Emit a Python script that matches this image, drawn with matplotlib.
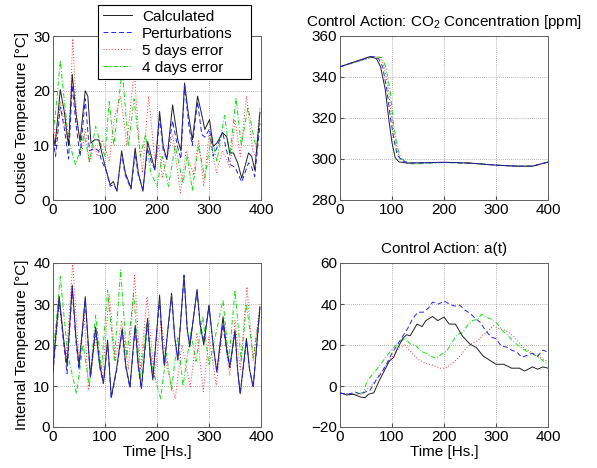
import matplotlib
matplotlib.use("Agg")
import matplotlib.pyplot as plt

plt.rcParams['font.family'] = ['Liberation Sans', 'DejaVu Sans']
plt.rcParams['mathtext.fontset'] = 'custom'
plt.rcParams['mathtext.rm'] = 'Liberation Sans'

# ---------------- Outside temperature ----------------
out_calc_t = [0, 4, 8, 14, 22, 27, 30, 37, 44, 52, 62, 67, 73, 80, 88, 94, 102, 110, 116, 123,
              132, 139, 150, 158, 164, 173, 182, 189, 196, 205, 212, 219, 230, 240, 246, 253, 260, 268, 278, 284,
              292, 301, 308, 315, 326, 334, 340, 347, 355, 363, 376, 382, 388, 398]
out_calc_v = [12, 10, 14, 20.2, 16, 12, 10, 23, 16, 10.7, 20, 19, 10.4, 11, 11, 8.6, 5.5, 2.8, 3.4, 1.6,
              9, 5, 2.2, 9.5, 5, 1.6, 10.7, 8, 5.5, 16.2, 9.8, 7.4, 17.4, 11, 9, 21.4, 16, 11, 19, 16.5,
              12.9, 14.7, 9.8, 10.4, 12.3, 11.6, 8.6, 8.6, 6.8, 4, 8.6, 8, 5.5, 16]

out_pert_t = [0, 5, 14, 22, 30, 37, 44, 52, 62, 70, 80, 88, 94, 102, 110, 116, 123, 132, 139, 150,
              158, 164, 173, 182, 189, 196, 205, 212, 219, 230, 240, 246, 253, 262, 268, 278, 286, 292, 301, 308,
              315, 326, 334, 340, 350, 363, 376, 382, 388, 398]
out_pert_v = [11, 8, 17, 13, 7.5, 21, 14, 8, 18.5, 9, 9.5, 9, 7, 5.5, 2.5, 2.8, 1.8, 8.5, 4.5, 2,
              8.5, 4.5, 2, 9.5, 7, 5.5, 15, 9, 7.5, 14.5, 9.5, 7.5, 21, 13, 10, 18, 12, 11.5, 13, 8,
              9.5, 12.5, 9, 6.5, 6, 3.3, 6.8, 6, 4.3, 14]

out_e5_t = [0, 6, 14, 22, 30, 38, 46, 56, 62, 70, 78, 86, 95, 102, 108, 118, 130, 142, 156, 166,
            172, 184, 196, 204, 210, 220, 230, 245, 256, 270, 280, 290, 300, 314, 326, 340, 350, 360, 372, 384,
            390, 398]
out_e5_v = [14, 11, 18, 14, 10, 29.5, 14, 9, 13, 6.8, 10, 8, 11, 9, 7, 15, 19, 10, 24, 10,
            5, 19, 7, 10, 4, 8, 12, 1.3, 9, 4.5, 11, 2.5, 12, 5, 9, 6, 14.7, 8, 19, 9,
            8, 17]

out_e4_t = [0, 6, 14, 22, 30, 43, 52, 60, 70, 82, 92, 100, 108, 117, 133, 145, 156, 168, 178, 188,
            200, 210, 222, 235, 250, 258, 268, 280, 292, 305, 315, 330, 340, 352, 362, 375, 385, 392, 398]
out_e4_v = [12, 17, 25.5, 18, 11, 6.5, 9, 12, 7, 13.5, 10, 8, 18, 10, 24, 10, 18.5, 8, 12, 5,
            2.5, 8, 2.5, 10, 3, 8, 1.8, 10, 4, 12, 7, 15.5, 8, 18.7, 10, 17, 12, 9, 14]

# ---------------- Internal temperature ----------------
in_calc_t = [0, 5, 12, 20, 27, 37, 44, 50, 56, 62, 67, 72, 82, 90, 97, 105, 112, 122, 133, 140,
             148, 158, 164, 170, 182, 187, 192, 205, 210, 214, 228, 234, 240, 252, 258, 263, 277, 283, 290, 300,
             308, 315, 327, 334, 340, 350, 355, 360, 372, 378, 385, 398]
in_calc_v = [14, 22, 31.8, 22, 15, 34.6, 22, 15, 23, 31.8, 22, 12.2, 24.4, 15, 10.6, 21.2, 7.3, 14, 24, 15,
             9.8, 24.8, 15, 9.4, 26.5, 17, 11.5, 32.2, 21, 15, 32.6, 22, 16.3, 37, 24, 19.5, 33.6, 25, 20, 29.7,
             20, 13.4, 26.9, 19, 14.7, 23.6, 14, 8.1, 21.6, 14, 9.8, 29.3]
in_pert_v = [13, 21, 31, 21, 13, 34, 21, 14, 22, 31, 21, 12, 24, 14.5, 10.6, 20.5, 7, 13.5, 23.5, 14.5,
             9.5, 24.5, 14.5, 9.2, 26, 17, 12, 31, 21, 15.5, 32, 22, 16.5, 37, 24, 20, 33, 25, 21, 29.5,
             20, 13.5, 25, 18.5, 14.5, 23, 14, 8, 21, 14, 9.5, 29]

in_e5_t = [0, 12, 25, 38, 50, 60, 68, 82, 95, 108, 120, 132, 145, 157, 168, 181, 195, 208, 220, 235,
           248, 264, 277, 289, 300, 314, 327, 340, 350, 360, 373, 385, 398]
in_e5_v = [14, 30, 16, 40, 16, 28, 9, 22, 12, 32.5, 16, 26, 14, 37, 14, 31.8, 12, 26, 14, 6.9,
           20, 9.8, 23, 8.6, 22, 10.2, 25, 12.6, 26, 14, 34.2, 16, 30]

in_e4_t = [0, 14, 28, 45, 58, 70, 82, 93, 105, 118, 130, 142, 155, 168, 180, 192, 207, 218, 228, 240,
           250, 265, 275, 288, 300, 312, 327, 338, 350, 362, 372, 385, 398]
in_e4_v = [17, 36.7, 18, 8.1, 20, 9.8, 27.3, 14, 33.4, 16.3, 38.3, 17, 32.6, 12.2, 25.3, 14, 6.9, 18, 9, 22,
           10, 23, 16, 27, 15, 22, 31, 16, 33.4, 16, 30, 17, 28]

# ---------------- CO2 concentration ----------------
co2_calc_t = [0, 58, 70, 78, 87, 94, 100, 106, 113, 130, 200, 250, 300, 340, 370, 400]
co2_calc_v = [345, 350, 349, 345, 334, 319, 308, 300.7, 298.6, 298, 298.4, 298, 297, 296.5, 296.5, 298.5]
co2_pert_t = [0, 62, 74, 82, 90, 97, 104, 110, 118, 130, 200, 250, 300, 340, 370, 400]
co2_pert_v = [345, 350, 349, 345, 334, 320, 309, 302, 299.5, 298, 298.3, 298, 297, 296.5, 296.5, 298.5]
co2_e5_t = [0, 64, 77, 85, 93, 100, 107, 113, 121, 135, 200, 250, 300, 340, 370, 400]
co2_e5_v = [345, 350, 349.5, 345, 334, 319, 308, 301.5, 299, 298, 298.5, 298, 297, 296.5, 296.5, 298.5]
co2_e4_t = [0, 66, 80, 88, 96, 103, 110, 117, 125, 140, 200, 250, 300, 340, 370, 400]
co2_e4_v = [345, 350, 349.5, 345, 334, 317, 306, 300.5, 299, 297.5, 298.3, 298, 297, 296.5, 296.5, 298.5]

# ---------------- Control action a(t) ----------------
a_calc_t = [0, 13, 25, 40, 48, 55, 65, 75, 85, 95, 103, 110, 120, 128, 135, 148, 158, 165, 178, 188,
            200, 210, 222, 235, 250, 262, 275, 290, 300, 315, 330, 345, 355, 370, 380, 390, 400]
a_calc_v = [-3.3, -4.4, -4, -5.4, -5.7, -4, -3.3, 2.4, 7.3, 12.2, 13.9, 18, 22.9, 25, 24.5, 30.2, 29, 31.9, 33.9, 31.9,
            33.6, 30.2, 30.2, 24.5, 20.4, 18.8, 14.7, 12.2, 10.6, 10.6, 8.7, 8.7, 7.3, 9.3, 8.2, 9.3, 8.7]
a_pert_t = [0, 15, 30, 40, 48, 58, 70, 80, 90, 100, 110, 120, 130, 140, 150, 160, 170, 178, 190, 200,
            210, 220, 230, 240, 250, 260, 270, 280, 290, 300, 310, 320, 330, 340, 350, 360, 370, 380, 390, 400]
a_pert_v = [-3.5, -4, -3, -4, -3, -2, 3, 6.5, 11, 16, 20, 24, 28, 33, 36, 36, 38, 40.9, 40, 41.5,
            40, 39, 39.5, 37, 35.5, 33, 31, 27, 24, 23, 19.5, 19, 17.5, 16.5, 14, 15, 16, 14.5, 17.5, 16.5]
a_e5_t = [0, 20, 40, 60, 80, 100, 115, 125, 135, 150, 165, 180, 195, 205, 215, 225, 235, 245, 255, 265,
          275, 285, 295, 305, 315, 325, 335, 345, 355, 365, 375, 385, 395, 400]
a_e5_v = [-3.5, -4, -4, 0, 7, 14, 19, 20, 17, 13, 11, 10, 8.5, 9, 11, 13, 16, 19, 21, 22,
          25, 27, 29.5, 28, 27.5, 26, 24, 21, 18, 17, 15, 14, 12.5, 12]
a_e4_t = [0, 20, 35, 45, 52, 71, 90, 106, 116, 125, 135, 145, 155, 165, 175, 185, 195, 205, 215, 225,
          235, 245, 255, 265, 272, 282, 292, 302, 312, 322, 332, 342, 352, 362, 372, 382, 392, 400]
a_e4_v = [-3.5, -4, -4, -3, 2.4, 8.2, 14.7, 19.6, 21.2, 23.5, 20.5, 20, 17, 16, 14.5, 13.5, 15.5, 17, 21, 25,
          26, 29.5, 32, 32.5, 35, 33.5, 32.5, 30.5, 27, 25, 22, 20, 18, 16.5, 15.5, 14, 12, 10.5]

labels = ['Calculated', 'Perturbations', '5 days error', '4 days error']
styles = [dict(color='#202020', ls='-', lw=0.7),
          dict(color='#2020ff', ls=(0, (5, 3)), lw=0.7),
          dict(color='#ff3030', ls=(0, (1, 2)), lw=0.7),
          dict(color='#10e010', ls=(0, (5, 2, 1, 2)), lw=0.7)]

FS = 11
W, H = 597, 468
fig = plt.figure(figsize=(W / 100, H / 100), dpi=100)


def make_ax(x0, x1, ytop, ybot):
    return fig.add_axes([x0 / W, 1 - ybot / H, (x1 - x0) / W, (ybot - ytop) / H])


def style_ax(ax, ylim, yticks):
    ax.set_xlim(0, 400)
    ax.set_xticks([0, 100, 200, 300, 400])
    ax.set_ylim(*ylim)
    ax.set_yticks(yticks)
    ax.grid(True, color='#707070', ls=(0, (1, 2)), lw=0.5)
    ax.tick_params(direction='in', length=3, labelsize=FS, color='#505050', pad=2)
    for s in ax.spines.values():
        s.set_color('#606060')
        s.set_linewidth(0.7)


ax1 = make_ax(53, 261, 36, 200)
ax2 = make_ax(340, 548, 36, 200)
ax3 = make_ax(53, 261, 263, 427)
ax4 = make_ax(340, 548, 263, 427)

series1 = [(out_calc_t, out_calc_v), (out_pert_t, out_pert_v), (out_e5_t, out_e5_v), (out_e4_t, out_e4_v)]
series2 = [(co2_calc_t, co2_calc_v), (co2_pert_t, co2_pert_v), (co2_e5_t, co2_e5_v), (co2_e4_t, co2_e4_v)]
series3 = [(in_calc_t, in_calc_v), (in_calc_t, in_pert_v), (in_e5_t, in_e5_v), (in_e4_t, in_e4_v)]
series4 = [(a_calc_t, a_calc_v), (a_pert_t, a_pert_v), (a_e5_t, a_e5_v), (a_e4_t, a_e4_v)]

order = [3, 2, 0, 1]
legend_handles = {}
for ax, ser in [(ax1, series1), (ax2, series2), (ax3, series3), (ax4, series4)]:
    for i in order:
        t, v = ser[i]
        ln, = ax.plot(t, v, label=labels[i], zorder=3, **styles[i])
        if ax is ax1:
            legend_handles[i] = ln

style_ax(ax1, (0, 30), [0, 10, 20, 30])
style_ax(ax2, (280, 360), [280, 300, 320, 340, 360])
style_ax(ax3, (0, 40), [0, 10, 20, 30, 40])
style_ax(ax4, (-20, 60), [-20, 0, 20, 40, 60])

ax1.set_ylabel('Outside Temperature [°C]', fontsize=FS, labelpad=3)
ax3.set_ylabel('Internal Temperature [°C]', fontsize=FS, labelpad=3)
ax3.set_xlabel('Time [Hs.]', fontsize=FS, labelpad=1)
ax4.set_xlabel('Time [Hs.]', fontsize=FS, labelpad=1)
ax2.set_title('Control Action: CO$_\\mathregular{2}$ Concentration [ppm]', fontsize=FS, pad=7)
ax4.set_title('Control Action: a(t)', fontsize=FS, pad=7)

leg = ax1.legend([legend_handles[i] for i in range(4)], labels, loc='upper left',
                 bbox_to_anchor=(0.216, 1.189, 0.736, 0.0), mode='expand', borderaxespad=0,
                 fontsize=FS, handlelength=1.95, handletextpad=0.65, labelspacing=0.2,
                 borderpad=0.3, fancybox=False, framealpha=1, edgecolor='black')
leg.get_frame().set_linewidth(0.8)
leg.set_zorder(10)

fig.savefig('out.png', dpi=100)
